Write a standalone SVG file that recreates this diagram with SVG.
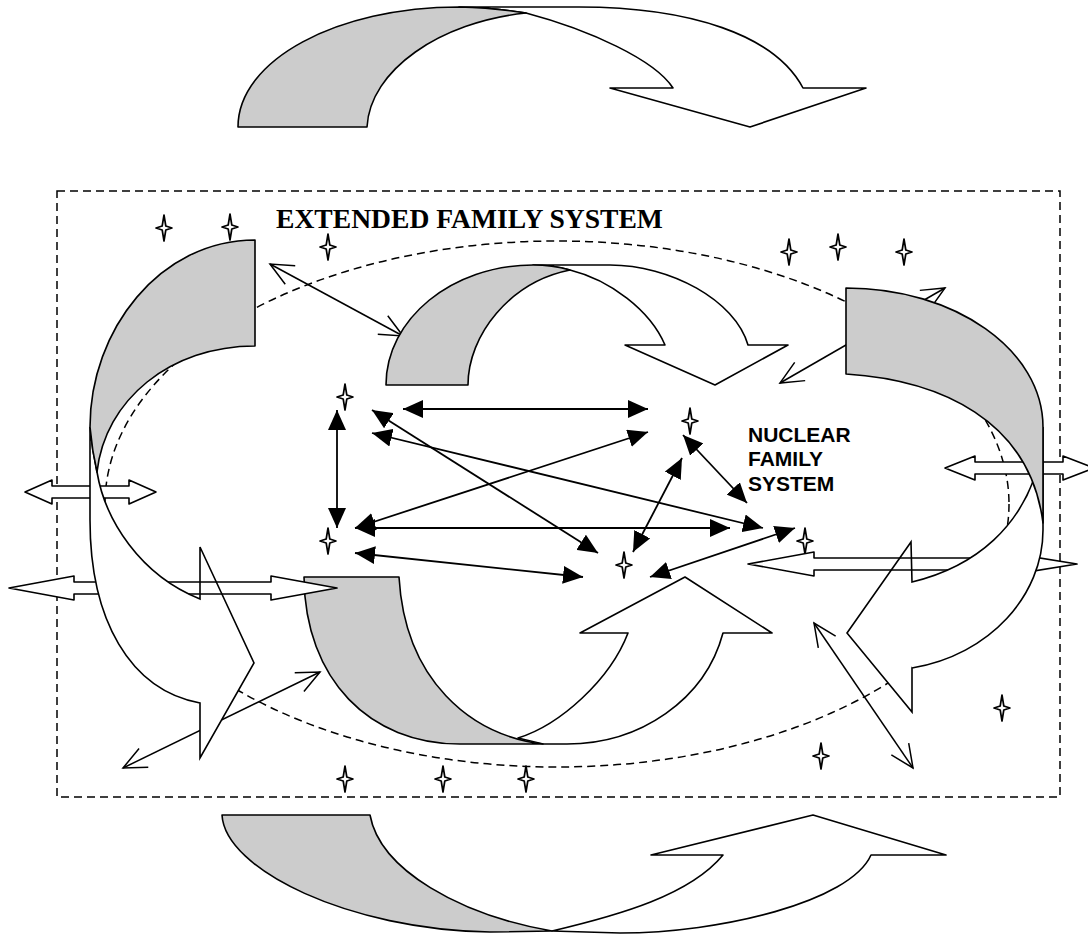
<svg xmlns="http://www.w3.org/2000/svg" width="1088" height="934" viewBox="0 0 1088 934">
<style>
.ln{fill:none;stroke:#000;stroke-width:1.6}
.gr{fill:#ccc;stroke:#000;stroke-width:1.6;stroke-linejoin:round}
.wh{fill:#fff;stroke:#000;stroke-width:1.6;stroke-linejoin:round}
.fo{fill:#fff;stroke:none}
.dash{fill:none;stroke:#000;stroke-width:1.5;stroke-dasharray:8 5}
.thin{fill:none;stroke:#000;stroke-width:1.5;marker-start:url(#oa);marker-end:url(#oa)}
.solid{fill:none;stroke:#000;stroke-width:1.8;marker-start:url(#fa);marker-end:url(#fa)}
.t1{font-family:"Liberation Serif","Times New Roman",serif;font-weight:bold;font-size:27.6px}
.t2{font-family:"Liberation Sans",Arial,sans-serif;font-weight:bold;font-size:21px}
</style>
<defs>
<marker id="fa" viewBox="0 0 20 18" refX="20" refY="9" markerWidth="20" markerHeight="18" markerUnits="userSpaceOnUse" orient="auto-start-reverse"><path d="M0,0 L20,9 L0,18 Z" fill="#000"/></marker>
<marker id="oa" viewBox="-26 -13 28 26" refX="0" refY="0" markerWidth="28" markerHeight="26" markerUnits="userSpaceOnUse" orient="auto-start-reverse"><path d="M-23,-10.5 L0,0 L-23,10.5" fill="none" stroke="#000" stroke-width="1.5"/></marker>
<path id="star" d="M0,-13 L1.8,-2 L8,0 L1.8,2 L0,13 L-1.8,2 L-8,0 L-1.8,-2 Z" fill="#fff" stroke="#000" stroke-width="1.7" stroke-linejoin="round"/>
</defs>
<rect width="1088" height="934" fill="#fff"/>
<g id="boundary">
<rect x="57" y="191" width="1003" height="606" class="dash"/>
<ellipse cx="557" cy="504" rx="452" ry="263" class="dash" stroke-width="1.3"/>
</g>
<g id="connectors">
<path class="thin" d="M270,264 L403,336"/>
<path class="thin" d="M780,383 L945,288"/>
<path class="thin" d="M123,768 L320,672"/>
<path class="thin" d="M814,623 L913,768"/>
<path class="solid" d="M403,409 L648,409"/>
<path class="solid" d="M337,410 L337,528"/>
<path class="solid" d="M372,410 L598,553"/>
<path class="solid" d="M372,433 L763,528"/>
<path class="solid" d="M355,528 L648,432"/>
<path class="solid" d="M355,528 L730,528"/>
<path class="solid" d="M355,553 L583,577"/>
<path class="solid" d="M633,552 L682,458"/>
<path class="solid" d="M683,435 L747,503"/>
<path class="solid" d="M650,577 L795,528"/>
</g>
<g id="stars">
<use href="#star" x="164" y="228"/><use href="#star" x="230" y="227"/><use href="#star" x="328" y="247"/>
<use href="#star" x="789" y="252"/><use href="#star" x="838" y="247"/><use href="#star" x="904" y="252"/>
<use href="#star" x="345" y="397"/><use href="#star" x="690" y="421"/><use href="#star" x="328" y="541"/>
<use href="#star" x="624" y="565"/><use href="#star" x="805" y="541"/>
<use href="#star" x="345" y="779"/><use href="#star" x="443" y="779"/><use href="#star" x="526" y="779"/>
<use href="#star" x="821" y="756"/><use href="#star" x="1002" y="708"/>
</g>
<g id="labels">
<text class="t1" x="276" y="228">EXTENDED FAMILY SYSTEM</text>
<text class="t2" x="748" y="442">NUCLEAR</text>
<text class="t2" x="748" y="466">FAMILY</text>
<text class="t2" x="748" y="491">SYSTEM</text>
</g>
<g id="arrow-top">
<path class="wh" d="M459,7 L579,7 C690,7 775,35 803,88 L866,88 L750,127 L610,88 L673,88 C655,60 590,30 526,13 Q495,8 459,7 Z"/>
<path class="gr" d="M238,127 C238,60 337,7 459,7 Q495,8 526,13 C440,22 370,70 367,127 Z"/>
</g>
<g id="arrow-mid-top">
<path class="wh" d="M533,265 L610,265 C670,265 735,300 748,345 L788,345 L715,385 L625,345 L665,345 C650,310 610,280 570,270 Q552,265 533,265 Z"/>
<path class="gr" d="M386,385 C386,319 452,265 533,265 Q552,265 570,270 C510,282 468,335 468,385 Z"/>
</g>
<g id="arrow-bottom">
<path class="wh" d="M552,931 C620,915 690,895 723,855 L651,855 L813,815 L946,855 L871,855 C850,902 720,933 620,933 L552,931 Z"/>
<path class="gr" d="M222,815 C225,870 350,930 490,932 L552,931 C460,915 380,870 370,815 Z"/>
</g>
<g id="arrow-mid-bottom">
<path class="wh" d="M518,738 C560,725 610,680 628,633 L580,633 L685,577 L772,633 L723,633 C705,700 640,744 567,744 L543,744 Z"/>
<path class="gr" d="M304,577 C305,680 370,744 460,744 L543,744 C470,735 405,680 399,577 Z"/>
</g>
<g id="arrowhead-fills">
<polygon class="fo" points="200,547 254,663 200,758"/>
<polygon class="fo" points="911,542 847,633 912,712"/>
</g>
<g id="block-arrows">
<polygon class="wh" points="25,492 52,480 52,486 129,486 129,480 156,492 129,504 129,498 52,498 52,504"/>
<polygon class="wh" points="9,588 74,576 74,582 271,582 271,576 337,588 271,600 271,594 74,594 74,600"/>
<polygon class="wh" points="945,468 975,456 975,462 1063,462 1063,456 1094,468 1063,480 1063,474 975,474 975,480"/>
<polygon class="wh" points="748,564 814,552 814,558 1003,558 1003,552 1077,564 1003,576 1003,570 814,570 814,576"/>
</g>
<g id="arrow-left">
<path class="fo" d="M90,427 L90,520 C90,620 130,690 200,703 L200,599 C140,575 105,520 97,472 Q92,450 90,427 Z"/>
<path class="ln" d="M90,427 L90,520 C90,620 130,690 200,703 L200,758 L254,663 L200,547 L200,599 C140,575 105,520 97,472 Q92,450 90,427 Z"/>
<path class="gr" d="M255,240 C160,240 90,330 90,427 Q92,450 97,472 C105,400 170,346 255,346 Z"/>
</g>
<g id="arrow-right">
<path class="fo" d="M1043,427 L1043,530 C1043,595 990,655 912,668 L912,582 C970,568 1028,530 1043,445 Z"/>
<path class="ln" d="M1043,427 L1043,530 C1043,595 990,655 912,668 L912,712 L847,633 L911,542 L912,582 C970,568 1028,530 1043,445 Z"/>
<path class="gr" d="M846,288 C955,288 1043,350 1043,427 L1043,523 C1030,420 940,380 846,374 Z"/>
</g>
</svg>
